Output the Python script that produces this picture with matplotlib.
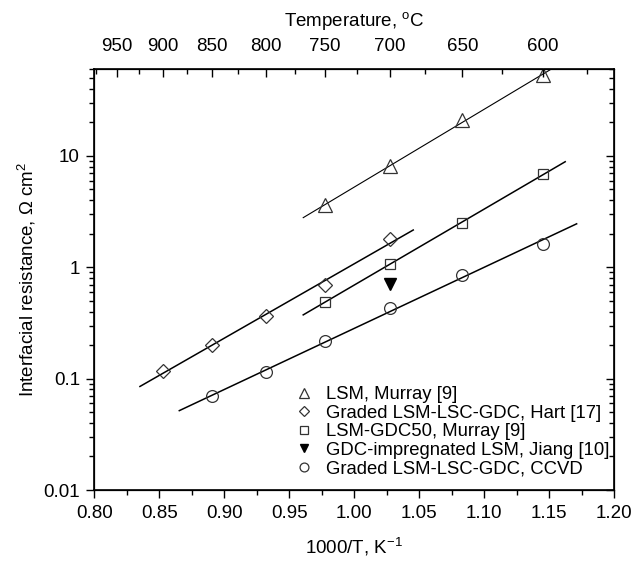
import numpy as np
import matplotlib
matplotlib.use('Agg')
import matplotlib.pyplot as plt
from matplotlib.ticker import FixedLocator, FuncFormatter, LogLocator, MultipleLocator, NullFormatter

plt.rcParams['font.family'] = ['Liberation Sans', 'DejaVu Sans']
plt.rcParams['mathtext.fontset'] = 'custom'
plt.rcParams['mathtext.rm'] = 'Liberation Sans'

# temperatures of the measurements, degC
t_lsm = [750, 700, 650, 600]
r_lsm = [3.62, 8.07, 21.1, 52.9]

t_hart = [900, 850, 800, 750, 700]
r_hart = [0.1165, 0.1995, 0.364, 0.69, 1.79]

t_gdc50 = [750, 700, 650, 600]
r_gdc50 = [0.491, 1.064, 2.51, 6.88]

t_jiang = [700]
r_jiang = [0.713]

t_ccvd = [850, 800, 750, 700, 650, 600]
r_ccvd = [0.0693, 0.114, 0.217, 0.433, 0.853, 1.635]

# x extent of the fitted lines (1000/T)
fit_lsm = (0.9607, 1.158)
fit_hart = (0.835, 1.0454)
fit_gdc50 = (0.9607, 1.1624)
fit_ccvd = (0.8653, 1.1712)

top_major = [950, 900, 850, 800, 750, 700, 650, 600]
top_minor = [975, 925, 875, 825, 775, 725, 675, 625, 575]

FS = 13.5


def inv_t(t):
    return 1000.0 / (np.asarray(t, dtype=float) + 273.15)


def fit_line(ax, t, r, span, lw):
    x = inv_t(t)
    k, b = np.polyfit(x, np.log10(r), 1)
    xs = np.array(span)
    ax.plot(xs, 10 ** (k * xs + b), color='k', lw=lw, zorder=2)


fig = plt.figure(figsize=(6.35, 5.64), dpi=100)
ax = fig.add_axes([0.1488, 0.1312, 0.8182, 0.7459])
ax.set_yscale('log')

fit_line(ax, t_lsm, r_lsm, fit_lsm, 0.8)
fit_line(ax, t_hart, r_hart, fit_hart, 1.1)
fit_line(ax, t_gdc50, r_gdc50, fit_gdc50, 1.1)
fit_line(ax, t_ccvd, r_ccvd, fit_ccvd, 1.1)

ec = '#333333'
ax.plot(inv_t(t_lsm), r_lsm, ls='none', marker='^', ms=10, mfc='none', mec=ec, mew=0.9,
        label='LSM, Murray [9]', clip_on=False, zorder=3)
ax.plot(inv_t(t_hart), r_hart, ls='none', marker='D', ms=7, mfc='none', mec=ec, mew=0.9,
        label='Graded LSM-LSC-GDC, Hart [17]', zorder=3)
ax.plot(inv_t(t_gdc50), r_gdc50, ls='none', marker='s', ms=7, mfc='none', mec=ec, mew=0.9,
        label='LSM-GDC50, Murray [9]', zorder=3)
ax.plot(inv_t(t_jiang), r_jiang, ls='none', marker='v', ms=8, mfc='k', mec='k',
        label='GDC-impregnated LSM, Jiang [10]', zorder=3)
ax.plot(inv_t(t_ccvd), r_ccvd, ls='none', marker='o', ms=8.5, mfc='none', mec=ec, mew=0.9,
        label='Graded LSM-LSC-GDC, CCVD', zorder=3)

ax.set_xlim(0.80, 1.20)
ax.set_ylim(0.01, 60)
ax.xaxis.set_major_locator(MultipleLocator(0.05))
ax.xaxis.set_minor_locator(MultipleLocator(0.025))
ax.xaxis.set_major_formatter(FuncFormatter(lambda v, p: f'{v:.2f}'))
ax.yaxis.set_major_locator(LogLocator(base=10, numticks=10))
ax.yaxis.set_minor_locator(LogLocator(base=10, subs=np.arange(2, 10), numticks=20))
ax.yaxis.set_major_formatter(FuncFormatter(lambda v, p: f'{v:g}'))
ax.yaxis.set_minor_formatter(NullFormatter())
ax.tick_params(which='major', direction='out', length=6, width=1, labelsize=FS, pad=4.5)
ax.tick_params(which='minor', direction='out', length=3.5, width=1)
ax.set_xlabel('1000/T, K$^{-1}$', fontsize=FS, labelpad=10)
ax.set_ylabel('Interfacial resistance, $\\Omega$ cm$^2$', fontsize=FS, labelpad=4)
for s in ax.spines.values():
    s.set_linewidth(1.2)

# right axis: log ticks only, pointing in
axr = ax.twinx()
axr.set_yscale('log')
axr.set_ylim(ax.get_ylim())
axr.yaxis.set_major_locator(LogLocator(base=10, numticks=10))
axr.yaxis.set_minor_locator(LogLocator(base=10, subs=np.arange(2, 10), numticks=20))
axr.tick_params(which='major', direction='in', length=6, width=1, labelright=False)
axr.tick_params(which='minor', direction='in', length=3.5, width=1, labelright=False)

# top axis: temperature in degC
axt = ax.twiny()
axt.set_xlim(ax.get_xlim())
axt.xaxis.set_major_locator(FixedLocator(inv_t(top_major)))
axt.xaxis.set_minor_locator(FixedLocator(inv_t(top_minor)))
axt.set_xticklabels([str(t) for t in top_major])
axt.tick_params(which='major', direction='in', length=6, width=1, labelsize=FS, pad=10)
axt.tick_params(which='minor', direction='in', length=3.5, width=1)
axt.set_xlabel('Temperature, $^{\\mathrm{o}}$C', fontsize=FS, labelpad=8)

ax.legend(loc='lower right', bbox_to_anchor=(1.012, 0.004), frameon=False, fontsize=13.3,
          handletextpad=0.5, labelspacing=0.08, handlelength=1.4, borderaxespad=0.2,
          markerscale=0.75)

fig.savefig('out.png', dpi=100)
